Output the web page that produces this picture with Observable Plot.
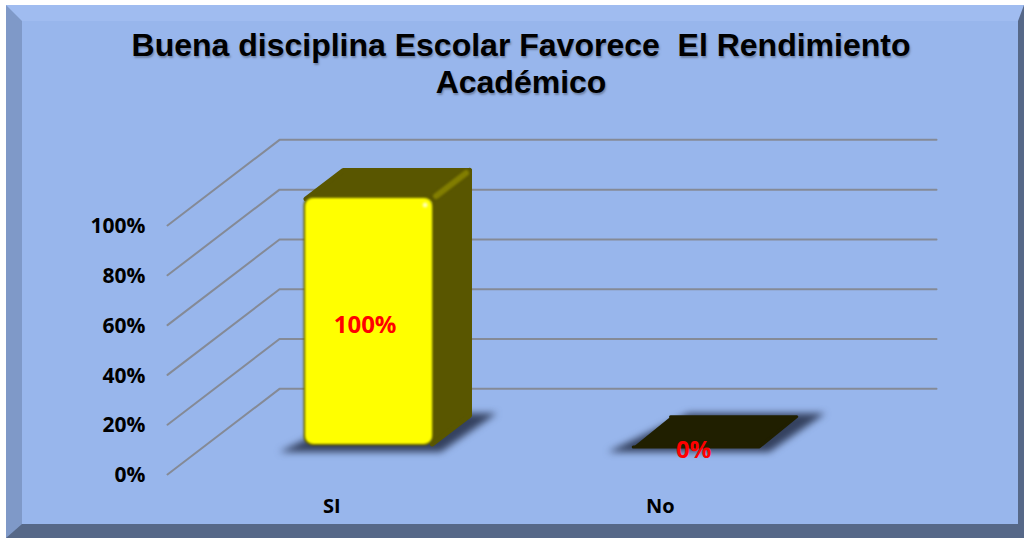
<!DOCTYPE html>
<html lang="es">
<head>
<meta charset="utf-8">
<script src="https://cdn.jsdelivr.net/npm/d3@7"></script>
<script src="https://cdn.jsdelivr.net/npm/@observablehq/plot@0.6"></script>
<style>
  html, body { margin: 0; padding: 0; background: #fff; }
  body { width: 1024px; height: 538px; overflow: hidden; position: relative; }
  #panel {
    position: absolute; left: 6px; top: 5px; width: 1018px; height: 533px; box-sizing: border-box;
    background: #98B6EC;
    border-style: solid; border-width: 16px 6px 14px 16px;
    border-color: #A0BCF0 #566888 #566888 #7F99C8;
  }
  #title {
    position: relative; z-index: 1; box-sizing: border-box; width: 1042px; height: 105px; padding-top: 27px;
    text-align: center; white-space: pre-wrap;
    font: 700 32px/37px "Liberation Sans", Arial, sans-serif; color: #000;
    text-shadow: 1px 2px 2px rgba(70,80,100,.5);
  }
  #chart { position: relative; z-index: 1; }
  #chart svg { display: block; background: transparent; }
</style>
</head>
<body>
<div id="panel"></div>
<div id="title">Buena disciplina Escolar Favorece  El Rendimiento
Académico</div>
<div id="chart"></div>
<script>
const categories = ["SI", "No"];
const values = [100, 0];
const valueLabels = ["100%", "0%"];
const yTicks = [0, 20, 40, 60, 80, 100];

// Oblique projection of the 3-D chart, in scale units
const depthX = 0.341, depthY = 34.4;
const barDepth = [1 / 3, 2 / 3];
const barWidth = 0.396;
const P = (c, v, d) => ({ x: c + depthX * d, y: v + depthY * d });

const barFace = "#595600", floorFace = "#201F00", shadow = "#34415F";
const [d0, d1] = barDepth;

const grid = yTicks.flatMap(v => [P(0, v, 0), P(0, v, 1), P(categories.length, v, 1)].map(p => ({ ...p, v })));

const bars = categories.map((name, i) => {
  const c = i + 0.5, a = c - barWidth / 2, b = c + barWidth / 2;
  return { name, i, v: values[i], c, a, b, label: valueLabels[i] };
});

const poly = (key, pts) => pts.map(p => ({ ...p, key }));
const shadows = bars.flatMap(s => poly(s.name, [
  P(s.a - 0.075, -2.4, d0), P(s.b + 0.02, -2.4, d0), P(s.b + 0.07, 1, d1 + 0.02), P(s.a + 0.05, 1, d1 + 0.02)
]));
const floorTops = bars.filter(s => s.v === 0).flatMap(s => poly(s.name, [
  P(s.a + 0.002, s.v - 0.4, d0), P(s.b - 0.01, s.v - 0.4, d0), P(s.b - 0.01, s.v + 0.3, d1), P(s.a + 0.002, s.v + 0.3, d1)
]));
const upright = bars.filter(s => s.v > 0);
const tops = upright.flatMap(s => poly(s.name, [
  P(s.a + 0.006, s.v - 0.8, d0), P(s.a + 0.006, s.v - 0.8, d1), P(s.b - 0.006, s.v - 0.8, d1), P(s.b - 0.006, s.v - 0.8, d0)
]));
const sides = upright.flatMap(s => poly(s.name, [
  P(s.b - 0.006, s.v - 0.8, d0), P(s.b - 0.006, s.v - 0.8, d1), P(s.b - 0.006, 0.8, d1), P(s.b - 0.006, 0.8, d0)
]));
const edges = upright.flatMap(s => poly(s.name, [P(s.b - 0.008, s.v - 1, d0 + 0.04), P(s.b - 0.008, s.v - 1, d1 - 0.025)]));
const fronts = upright.map(s => ({
  x1: P(s.a, 0, d0).x, x2: P(s.b, 0, d0).x, y1: P(s.a, 0, d0).y, y2: P(s.a, s.v, d0).y
}));
const corners = upright.map(s => P(s.b, s.v, d0));
const labelPts = bars.map(s => ({ ...P(s.c, s.v / 2, d0), label: s.label }));
const sans = '"Open Sans", "Noto Sans", sans-serif';

const chart = Plot.plot({
  width: 1024, height: 433,
  marginLeft: 167, marginRight: 200, marginTop: 120, marginBottom: 64,
  x: { domain: [0, categories.length] },
  y: { domain: [0, 100] },
  style: { background: "transparent", fontFamily: sans, overflow: "visible" },
  marks: [
    Plot.line(grid, { x: "x", y: "y", z: "v", stroke: "#858A96", strokeWidth: 2, strokeLinejoin: "miter", imageFilter: "blur(.5px)" }),
    Plot.line(shadows, { x: "x", y: "y", z: "key", fill: shadow, stroke: "none", imageFilter: "blur(3.5px)" }),
    Plot.line(floorTops, { x: "x", y: "y", z: "key", fill: floorFace, stroke: floorFace, strokeWidth: 3, strokeLinejoin: "round" }),
    Plot.line(tops, { x: "x", y: "y", z: "key", fill: barFace, stroke: barFace, strokeWidth: 5, strokeLinejoin: "round", imageFilter: "blur(.5px)" }),
    Plot.line(sides, { x: "x", y: "y", z: "key", fill: barFace, stroke: barFace, strokeWidth: 5, strokeLinejoin: "round", imageFilter: "blur(.5px)" }),
    Plot.line(edges, { x: "x", y: "y", z: "key", stroke: "#827E00", strokeWidth: 6, imageFilter: "blur(1.2px)", strokeLinecap: "round" }),
    Plot.rect(fronts, { x1: "x1", x2: "x2", y1: "y1", y2: "y2", fill: "#5E5A00", rx: 9, imageFilter: "blur(1px)" }),
    Plot.rect(fronts, { x1: "x1", x2: "x2", y1: "y1", y2: "y2", fill: "#FFFF00", rx: 8, inset: 1.5, imageFilter: "blur(1px)" }),
    Plot.dot(corners, { x: "x", y: "y", r: 2.5, dx: -9, dy: 8, fill: "#FFFFB0", imageFilter: "blur(1px)" }),
    Plot.axisY({ ticks: yTicks, tickFormat: d => d + "%", tickSize: 0, tickPadding: 22, fontSize: 21, fontWeight: 700, fill: "#000", label: null, dy: 1 }),
    Plot.axisX({ ticks: categories.map((_, i) => i + 0.5), tickFormat: d => categories[d - 0.5], tickSize: 0, tickPadding: 24, fontSize: 20, fontWeight: 700, fill: "#000", label: null }),
    Plot.text(labelPts, { x: "x", y: "y", text: "label", fill: "#FF0000", fontSize: 24, fontWeight: 700, dx: -4, dy: 4 })
  ]
});
document.getElementById("chart").appendChild(chart);
</script>
</body>
</html>
